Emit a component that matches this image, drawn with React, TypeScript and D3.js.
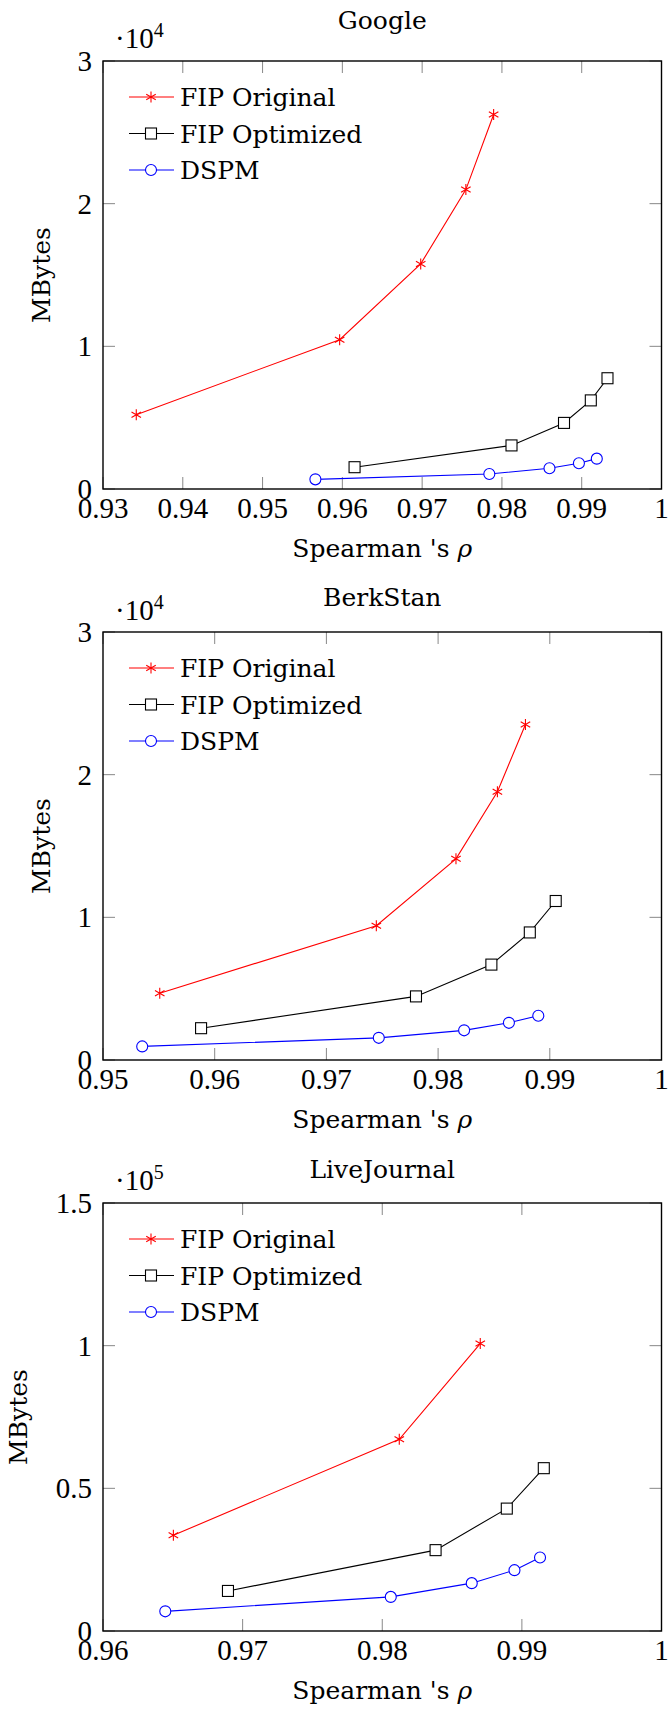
import React from "react";
import * as d3 from "d3";

// values, x = Spearman's rho, y = MBytes
const googleOrigX = [0.93417, 0.95966, 0.96982, 0.97548, 0.97896];
const googleOrigY = [5209, 10468, 15778, 20987, 26246];
const googleOptX = [0.96153, 0.9812, 0.98778, 0.99114, 0.99323];
const googleOptY = [1528, 3055, 4633, 6211, 7764];
const googleDspmX = [0.95662, 0.97842, 0.98596, 0.98965, 0.99189];
const googleDspmY = [676, 1052, 1453, 1803, 2129];

const berkOrigX = [0.95508, 0.97447, 0.9816, 0.98531, 0.98782];
const berkOrigY = [4683, 9416, 14100, 18808, 23516];
const berkOptX = [0.95878, 0.97802, 0.98477, 0.98821, 0.99053];
const berkOptY = [2229, 4458, 6687, 8941, 11145];
const berkDspmX = [0.95351, 0.97469, 0.98233, 0.98634, 0.98897];
const berkDspmY = [952, 1553, 2079, 2605, 3105];

const ljOrigX = [0.96504, 0.98122, 0.98702];
const ljOrigY = [33537, 67204, 100741];
const ljOptX = [0.96895, 0.98382, 0.98892, 0.99157];
const ljOptY = [14039, 28338, 42896, 57065];
const ljDspmX = [0.96446, 0.98061, 0.98641, 0.98947, 0.9913];
const ljDspmY = [6889, 11959, 16769, 21318, 25738];

const googleXTicks = [0.93, 0.94, 0.95, 0.96, 0.97, 0.98, 0.99, 1];
const berkXTicks = [0.95, 0.96, 0.97, 0.98, 0.99, 1];
const ljXTicks = [0.96, 0.97, 0.98, 0.99, 1];
const googleYTicks = [0, 10000, 20000, 30000];
const berkYTicks = [0, 10000, 20000, 30000];
const ljYTicks = [0, 50000, 100000, 150000];

const seriesNames = ["FIP Original", "FIP Optimized", "DSPM"];
const seriesColors = ["#ff0000", "#000000", "#0000ff"];
const seriesMarks = ["asterisk", "square", "circle"];

const textFont = "'DejaVu Serif', serif";
const numFont = "'Liberation Serif', serif";

const W = 668;
const H = 1711;
const left = 103;
const right = 661.5;
const plotH = 428;

function Mark({ type, x, y, color }) {
  if (type === "asterisk") {
    const r = 5.5;
    const arms = [90, 30, 150].map((a) => {
      const t = (a * Math.PI) / 180;
      return `M${x - r * Math.cos(t)},${y - r * Math.sin(t)}L${x + r * Math.cos(t)},${y + r * Math.sin(t)}`;
    });
    return <path d={arms.join("")} stroke={color} strokeWidth={1.1} fill="none" />;
  }
  if (type === "square") {
    return <rect x={x - 5.5} y={y - 5.5} width={11} height={11} stroke={color} strokeWidth={1.1} fill="#fff" />;
  }
  return <circle cx={x} cy={y} r={5.5} stroke={color} strokeWidth={1.1} fill="#fff" />;
}

function Panel({ top, title, titleGap, xDomain, xTicks, yDomain, yTicks, yFmt, expo, expoGap, ylabX, series }) {
  const x = d3.scaleLinear().domain(xDomain).range([left, right]);
  const y = d3.scaleLinear().domain(yDomain).range([top + plotH, top]);
  const bottom = top + plotH;
  const line = d3
    .line<number[]>()
    .x((d) => x(d[0]))
    .y((d) => y(d[1]));
  const tickLen = 12;

  return (
    <g>
      <text x={(left + right) / 2} y={top - titleGap} textAnchor="middle" fontFamily={textFont} fontSize={25}>
        {title}
      </text>
      <text x={115} y={top - expoGap} fontFamily={numFont} fontSize={29}>
        ·10
        <tspan fontSize={20} dy={-11}>
          {expo}
        </tspan>
      </text>

      {xTicks.map((t) => (
        <g key={"x" + t}>
          <line x1={x(t)} x2={x(t)} y1={bottom} y2={bottom - tickLen} stroke="#888" strokeWidth={1} />
          <line x1={x(t)} x2={x(t)} y1={top} y2={top + tickLen} stroke="#888" strokeWidth={1} />
          <text x={x(t)} y={bottom + 29} textAnchor="middle" fontFamily={numFont} fontSize={29}>
            {d3.format("")(t)}
          </text>
        </g>
      ))}
      {yTicks.map((t) => (
        <g key={"y" + t}>
          <line x1={left} x2={left + tickLen} y1={y(t)} y2={y(t)} stroke="#888" strokeWidth={1} />
          <line x1={right} x2={right - tickLen} y1={y(t)} y2={y(t)} stroke="#888" strokeWidth={1} />
          <text x={left - 11} y={y(t)} dy="0.34em" textAnchor="end" fontFamily={numFont} fontSize={29}>
            {yFmt(t)}
          </text>
        </g>
      ))}

      {series.map((s, i) => (
        <g key={"s" + i}>
          <path d={line(s.xs.map((v, j) => [v, s.ys[j]])) || ""} stroke={seriesColors[i]} strokeWidth={1.1} fill="none" />
          {s.xs.map((v, j) => (
            <Mark key={j} type={seriesMarks[i]} x={x(v)} y={y(s.ys[j])} color={seriesColors[i]} />
          ))}
        </g>
      ))}

      <rect x={left} y={top} width={right - left} height={plotH} fill="none" stroke="#000" strokeWidth={1.4} />

      {seriesNames.map((n, i) => {
        const ly = top + 36 + i * 36.5;
        return (
          <g key={"l" + i}>
            <line x1={left + 26} x2={left + 71} y1={ly} y2={ly} stroke={seriesColors[i]} strokeWidth={1.1} />
            <Mark type={seriesMarks[i]} x={left + 48} y={ly} color={seriesColors[i]} />
            <text x={left + 77} y={ly} dy="0.36em" fontFamily={textFont} fontSize={25}>
              {n}
            </text>
          </g>
        );
      })}

      <text
        transform={`translate(${ylabX},${top + plotH / 2}) rotate(-90)`}
        textAnchor="middle"
        fontFamily={textFont}
        fontSize={25}
      >
        MBytes
      </text>
      <text x={(left + right) / 2} y={bottom + 68} textAnchor="middle" fontFamily={textFont} fontSize={25}>
        Spearman 's <tspan fontStyle="italic">ρ</tspan>
      </text>
    </g>
  );
}

export default function App() {
  const fmt1 = (t) => String(t / 10000);
  const fmt5 = (t) => String(t / 100000);
  return (
    <svg width={W} height={H} style={{ position: "absolute", left: 0, top: 0, background: "#fff" }}>
      <rect width={W} height={H} fill="#fff" />
      <Panel
        top={61}
        title="Google"
        titleGap={32}
        xDomain={[0.93, 1]}
        xTicks={googleXTicks}
        yDomain={[0, 30000]}
        yTicks={googleYTicks}
        yFmt={fmt1}
        expo="4"
        expoGap={13}
        ylabX={50}
        series={[
          { xs: googleOrigX, ys: googleOrigY },
          { xs: googleOptX, ys: googleOptY },
          { xs: googleDspmX, ys: googleDspmY },
        ]}
      />
      <Panel
        top={632}
        title="BerkStan"
        titleGap={26}
        xDomain={[0.95, 1]}
        xTicks={berkXTicks}
        yDomain={[0, 30000]}
        yTicks={berkYTicks}
        yFmt={fmt1}
        expo="4"
        expoGap={12}
        ylabX={50}
        series={[
          { xs: berkOrigX, ys: berkOrigY },
          { xs: berkOptX, ys: berkOptY },
          { xs: berkDspmX, ys: berkDspmY },
        ]}
      />
      <Panel
        top={1203}
        title="LiveJournal"
        titleGap={25}
        xDomain={[0.96, 1]}
        xTicks={ljXTicks}
        yDomain={[0, 150000]}
        yTicks={ljYTicks}
        yFmt={fmt5}
        expo="5"
        expoGap={13}
        ylabX={27}
        series={[
          { xs: ljOrigX, ys: ljOrigY },
          { xs: ljOptX, ys: ljOptY },
          { xs: ljDspmX, ys: ljDspmY },
        ]}
      />
    </svg>
  );
}
